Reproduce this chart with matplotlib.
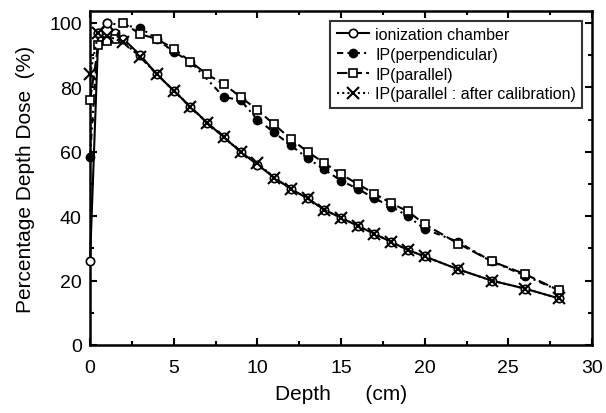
import matplotlib
matplotlib.use("Agg")
import matplotlib.pyplot as plt
from matplotlib.ticker import MultipleLocator

depth_ic = [0, 0.5, 1, 1.5, 2, 3, 4, 5, 6, 7, 8, 9, 10, 11, 12, 13, 14, 15, 16, 17, 18, 19, 20, 22, 24, 26, 28]
pdd_ic = [26, 97, 100, 97, 95, 90, 84, 79, 74, 69, 64.5, 60, 56, 52, 48.5, 45.5, 42, 39.5, 37, 34.5, 32, 29.5, 27.5, 23.5, 20, 17.5, 14.5]

depth_perp = [0, 0.5, 1, 3, 4, 5, 6, 8, 9, 10, 11, 12, 13, 14, 15, 16, 17, 18, 19, 20, 22, 24, 26, 28]
pdd_perp = [58.5, 97, 100, 98.5, 95, 91, 88, 77, 76, 70, 66, 62, 58, 54.5, 51, 48.5, 45.5, 43, 40, 36, 32, 26, 21.5, 17]

depth_par = [0, 0.5, 1, 1.5, 2, 3, 4, 5, 6, 7, 8, 9, 10, 11, 12, 13, 14, 15, 16, 17, 18, 19, 20, 22, 24, 26, 28]
pdd_par = [76, 93, 94.5, 95, 100, 96.5, 95, 92, 88, 84, 81, 77, 73, 68.5, 64, 60, 56.5, 53, 50, 47, 44, 41.5, 37.5, 31.5, 26, 22, 17]

depth_cal = [0, 0.5, 1, 2, 3, 4, 5, 6, 7, 8, 9, 10, 11, 12, 13, 14, 15, 16, 17, 18, 19, 20, 22, 24, 26, 28]
pdd_cal = [84, 97, 96, 94, 89.5, 84, 79, 74, 69, 64.5, 60, 56.5, 52, 48.5, 45.5, 42, 39.5, 37, 34.5, 32, 29.5, 27.5, 23.5, 20, 17.5, 14.5]

labels = ["ionization chamber", "IP(perpendicular)", "IP(parallel)", "IP(parallel : after calibration)"]

plt.rcParams['font.family'] = ['Liberation Sans', 'DejaVu Sans']
fig = plt.figure(figsize=(6.06, 4.14), dpi=100)
ax = fig.add_axes([90/606, 1-346/414, 502/606, 334/414])

ms = 6
ax.plot(depth_ic, pdd_ic, '-', color='black', lw=1.5, marker='o', ms=ms, mfc='white', mec='black', mew=1.2, label=labels[0], zorder=3, clip_on=False)
ax.plot(depth_perp, pdd_perp, linestyle=(0, (3, 2, 1, 2)), color='black', lw=1.5, marker='o', ms=ms, mfc='black', mec='black', label=labels[1], zorder=2, clip_on=False)
ax.plot(depth_par, pdd_par, linestyle=(0, (5, 2)), color='black', lw=1.5, marker='s', ms=ms, mfc='white', mec='black', mew=1.2, label=labels[2], zorder=4, clip_on=False)
ax.plot(depth_cal, pdd_cal, linestyle=(0, (1, 1.5)), color='black', lw=1.5, marker='x', ms=8, mec='black', mew=1.5, label=labels[3], zorder=5, clip_on=False)

ax.set_xlim(0, 30)
ax.set_ylim(0, 103.7)
ax.xaxis.set_major_locator(MultipleLocator(5))
ax.xaxis.set_minor_locator(MultipleLocator(2.5))
ax.yaxis.set_major_locator(MultipleLocator(20))
ax.yaxis.set_minor_locator(MultipleLocator(10))
ax.tick_params(which='both', direction='in', top=True, right=True, labelsize=14, width=1.5)
ax.tick_params(which='major', length=5)
ax.tick_params(which='minor', length=3)
ax.tick_params(axis='x', which='major', pad=10)
ax.tick_params(axis='y', which='major', pad=6)
for s in ax.spines.values():
    s.set_linewidth(1.8)

ax.set_xlabel("Depth      (cm)", fontsize=15, labelpad=6)
ax.set_ylabel("Percentage Depth Dose  (%)", fontsize=15, labelpad=10)

leg = ax.legend(loc='upper right', fontsize=11.5, frameon=True, fancybox=False, edgecolor='black',
                handlelength=2.0, handletextpad=0.4, borderpad=0.4, labelspacing=0.3, borderaxespad=0.6)
leg.get_frame().set_linewidth(1.5)

fig.savefig("out.png", dpi=100)
